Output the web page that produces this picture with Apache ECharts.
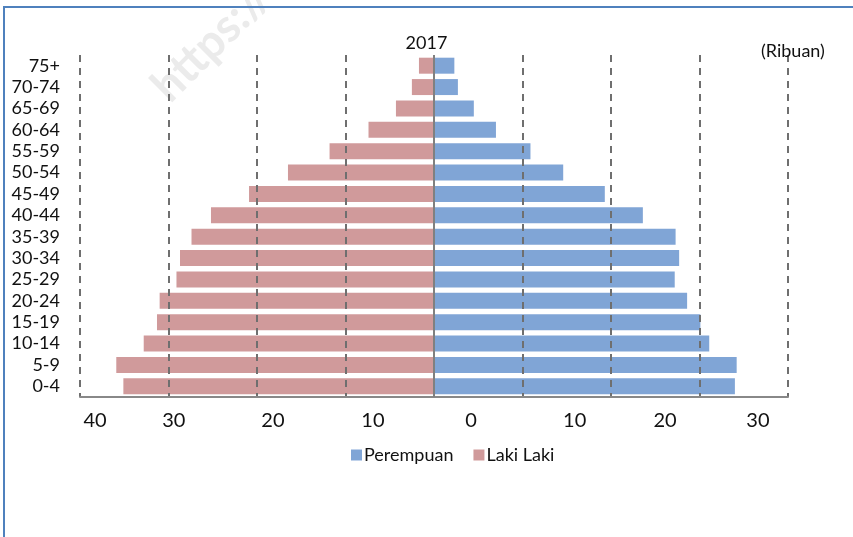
<!DOCTYPE html>
<html>
<head>
<meta charset="utf-8">
<script src="https://cdn.jsdelivr.net/npm/echarts@6/dist/echarts.min.js"></script>
<style>
  html, body { margin: 0; padding: 0; background: #fff; }
  #chart { width: 853px; height: 537px; }
</style>
</head>
<body>
<div id="chart"></div>
<script>
// Age groups, youngest at the bottom
const ageGroups = ['0-4', '5-9', '10-14', '15-19', '20-24', '25-29', '30-34', '35-39',
                   '40-44', '45-49', '50-54', '55-59', '60-64', '65-69', '70-74', '75+'];
// Population in thousands (Ribuan)
const lakiLaki  = [35.1, 35.9, 32.8, 31.3, 31.0, 29.1, 28.7, 27.4, 25.2, 20.9, 16.5, 11.8, 7.4, 4.3, 2.5, 1.7];
const perempuan = [34.0, 34.2, 31.1, 30.1, 28.6, 27.2, 27.7, 27.3, 23.6, 19.3, 14.6, 10.9, 7.0, 4.5, 2.7, 2.3];
// Scale labels printed under the axis, and where they sit along it
const tickLabels = ['40', '30', '20', '10', '0', '10', '20', '30'];
const tickSpots  = [-38.3, -29.4, -18.2, -6.9, 4.2, 15.9, 26.1, 36.6];

const FONT = 'Lato';
const chart = echarts.init(document.getElementById('chart'), null, { renderer: 'canvas' });

const labelFor = v => {
  let best = 0, d = Infinity;
  tickSpots.forEach((s, i) => { const dd = Math.abs(s - v); if (dd < d) { d = dd; best = i; } });
  return tickLabels[best];
};

chart.setOption({
  animation: false,
  backgroundColor: '#fff',
  textStyle: { fontFamily: FONT },
  title: [
    { text: '2017', left: 'center', top: 29,
      textStyle: { fontFamily: FONT, fontSize: 18, fontWeight: 'normal', color: '#111' } },
    { text: '(Ribuan)', left: 756, top: 37,
      textStyle: { fontFamily: FONT, fontSize: 18, fontWeight: 'normal', color: '#111' } }
  ],
  graphic: [
    { type: 'text', x: 176, y: 110, rotation: Math.PI / 4, z: -1, silent: true,
      style: { text: 'https://', fill: '#ebebeb', verticalAlign: 'bottom',
               font: 'bold 46px ' + FONT } },
    { type: 'rect', z: 100, silent: true,
      shape: { x: 4, y: 7, width: 900, height: 600 },
      style: { fill: 'none', stroke: '#4f81bd', lineWidth: 2 } }
  ],
  legend: {
    left: 346, top: 441,
    icon: 'rect', itemWidth: 11, itemHeight: 11, itemGap: 20,
    data: ['Perempuan', 'Laki Laki'],
    textStyle: { fontFamily: FONT, fontSize: 18, color: '#111', padding: [0, 0, 0, -3] }
  },
  grid: { left: 80, right: 65, top: 55, bottom: 140, containLabel: false },
  xAxis: [
    {
      type: 'value', min: -40, max: 40, interval: 10, z: 3,
      axisLine: { show: true, lineStyle: { color: '#888', width: 2 } },
      axisTick: { show: false },
      axisLabel: { show: false },
      splitLine: { show: true, lineStyle: { color: '#6f6f6f', width: 2, type: [7, 6] } }
    },
    {
      type: 'value', min: -40, max: 40, position: 'bottom',
      axisLine: { show: false }, axisTick: { show: false }, splitLine: { show: false },
      axisLabel: {
        show: true, customValues: tickSpots, margin: 14,
        fontFamily: FONT, fontSize: 20, color: '#111',
        formatter: v => labelFor(v)
      }
    }
  ],
  yAxis: {
    type: 'category', data: ageGroups,
    axisLine: { show: false }, axisTick: { show: false },
    axisLabel: { interval: 0, margin: 20, fontFamily: FONT, fontSize: 18, color: '#111' }
  },
  series: [
    {
      name: 'Perempuan', type: 'bar', xAxisIndex: 0,
      data: perempuan, barWidth: 16, barGap: '-100%',
      itemStyle: { color: '#80a5d6' },
      markLine: {
        silent: true, symbol: 'none', label: { show: false },
        lineStyle: { color: '#808080', width: 2, type: 'solid' },
        data: [{ xAxis: 0 }]
      }
    },
    {
      name: 'Laki Laki', type: 'bar', xAxisIndex: 0,
      data: lakiLaki.map(v => -v), barWidth: 16, barGap: '-100%',
      itemStyle: { color: '#d09a9b' }
    }
  ]
});
</script>
</body>
</html>
